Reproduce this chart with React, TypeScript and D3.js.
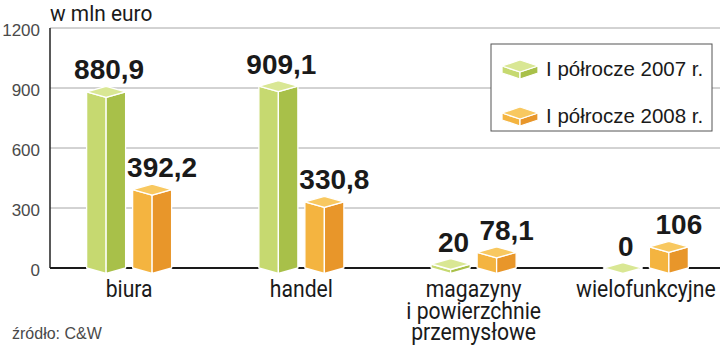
import React from "react";
import * as d3 from "d3";

const categories: string[][] = [
  ["biura"],
  ["handel"],
  ["magazyny", "i powierzchnie", "przemysłowe"],
  ["wielofunkcyjne"],
];
const seriesNames = ["I półrocze 2007 r.", "I półrocze 2008 r."];
const values2007 = [880.9, 909.1, 20, 0];
const values2008 = [392.2, 330.8, 78.1, 106];
const valueLabels2007 = ["880,9", "909,1", "20", "0"];
const valueLabels2008 = ["392,2", "330,8", "78,1", "106"];
const yTicks = [0, 300, 600, 900, 1200];

const W = 720;
const H = 347;

const palette = [
  { top: "#d9e794", left: "#c6d970", right: "#a8c049" },
  { top: "#f8c860", left: "#f4b440", right: "#e8962a" },
];

const BODY_FONT = "Roboto, 'Noto Sans', sans-serif";
const NUM_FONT = "'Liberation Sans', Arial, sans-serif";

// A 3D box seen from its front corner: two side faces and a rhombus on top
function Box({ cx, yTop, yBase, hw, hh, colors }: { cx: number; yTop: number; yBase: number; hw: number; hh: number; colors: { top: string; left: string; right: string } }) {
  const l = cx - hw;
  const r = cx + hw;
  const leftFace = `M${l},${yTop} L${cx},${yTop + hh} L${cx},${yBase + hh} L${l},${yBase} Z`;
  const rightFace = `M${cx},${yTop + hh} L${r},${yTop} L${r},${yBase} L${cx},${yBase + hh} Z`;
  const topFace = `M${l},${yTop} L${cx},${yTop - hh} L${r},${yTop} L${cx},${yTop + hh} Z`;
  const stroke = { stroke: "#ffffff", strokeWidth: 1.3, strokeLinejoin: "round" as const };
  return (
    <g>
      {yBase - yTop > 0.5 && <path d={leftFace} fill={colors.left} {...stroke} />}
      {yBase - yTop > 0.5 && <path d={rightFace} fill={colors.right} {...stroke} />}
      <path d={topFace} fill={colors.top} {...stroke} />
    </g>
  );
}

export default function App() {
  const y = d3.scaleLinear().domain([0, 1200]).range([268, 28]);
  const x = d3.scaleBand<number>().domain(d3.range(categories.length)).range([43, 732]).padding(0);
  const xs = d3.scaleBand<number>().domain([0, 1]).range([-46, 46]).padding(0);
  const axisX = 50;
  const hw = 19.5;
  const hh = 5.5;

  const series = [
    { values: values2007, labels: valueLabels2007, colors: palette[0], nudge: 3 },
    { values: values2008, labels: valueLabels2008, colors: palette[1], nudge: 10 },
  ];

  return (
    <svg width={W} height={H} style={{ position: "fixed", left: 0, top: 0, background: "#ffffff" }}>
      <rect width={W} height={H} fill="#ffffff" />
      {/* unit title */}
      <text transform="translate(50,21) scale(0.95,1)" fontFamily={BODY_FONT} fontSize={22} fill="#1a1a1a">w mln euro</text>

      {/* gridlines and y tick labels */}
      {yTicks.map((t) => (
        <g key={t}>
          {t > 0 && <line x1={axisX} x2={W} y1={y(t)} y2={y(t)} stroke="#a6a6a6" strokeWidth={1} />}
          <text x={40} y={y(t) + 3.5} textAnchor="end" dominantBaseline="middle" fontFamily={NUM_FONT} fontSize={17} fill="#4a4a4a">{t}</text>
        </g>
      ))}

      {/* axes */}
      <line x1={axisX} x2={axisX} y1={y(1200)} y2={y(0)} stroke="#222" strokeWidth={1.5} />
      <line x1={axisX} x2={W} y1={y(0)} y2={y(0)} stroke="#1a1a1a" strokeWidth={2} />

      {/* bars */}
      {categories.map((_, i) => (
        <g key={i}>
          {series.map((s, j) => {
            const cx = (x(i) ?? 0) + x.bandwidth() / 2 + (xs(j) ?? 0) + xs.bandwidth() / 2;
            return (
              <Box key={j} cx={cx} yTop={y(s.values[i])} yBase={y(0)} hw={hw} hh={hh} colors={s.colors} />
            );
          })}
        </g>
      ))}

      {/* value labels */}
      {categories.map((_, i) =>
        series.map((s, j) => {
          const cx = (x(i) ?? 0) + x.bandwidth() / 2 + (xs(j) ?? 0) + xs.bandwidth() / 2;
          return (
            <text key={`${i}-${j}`} x={cx + s.nudge} y={y(s.values[i]) - hh - 7} textAnchor="middle" fontFamily={NUM_FONT} fontWeight="bold" fontSize={28} fill="#1a1a1a">
              {s.labels[i]}
            </text>
          );
        })
      )}

      {/* category labels */}
      {categories.map((lines, i) => (
        <g key={i}>
          {lines.map((ln, k) => (
            <text
              key={k}
              transform={`translate(${(x(i) ?? 0) + x.bandwidth() / 2},${297 + k * 21.5}) scale(0.9,1)`}
              textAnchor="middle"
              fontFamily={BODY_FONT}
              fontSize={23.5}
              fill="#1a1a1a"
            >
              {ln}
            </text>
          ))}
        </g>
      ))}

      {/* legend */}
      <g>
        <rect x={491} y={44} width={221} height={87} fill="#ffffff" stroke="#555" strokeWidth={1} />
        {seriesNames.map((name, j) => {
          const cy = 70 + j * 47;
          return (
            <g key={j}>
              <Box cx={520} yTop={cy - 4} yBase={cy + 3} hw={18} hh={6} colors={palette[j]} />
              <text x={546} y={cy + 6} fontFamily={NUM_FONT} fontSize={20.5} fill="#1a1a1a">{name}</text>
            </g>
          );
        })}
      </g>

      {/* source */}
      <text x={12} y={339} fontFamily={NUM_FONT} fontSize={16} fill="#4a4a4a">źródło: C&amp;W</text>
    </svg>
  );
}
